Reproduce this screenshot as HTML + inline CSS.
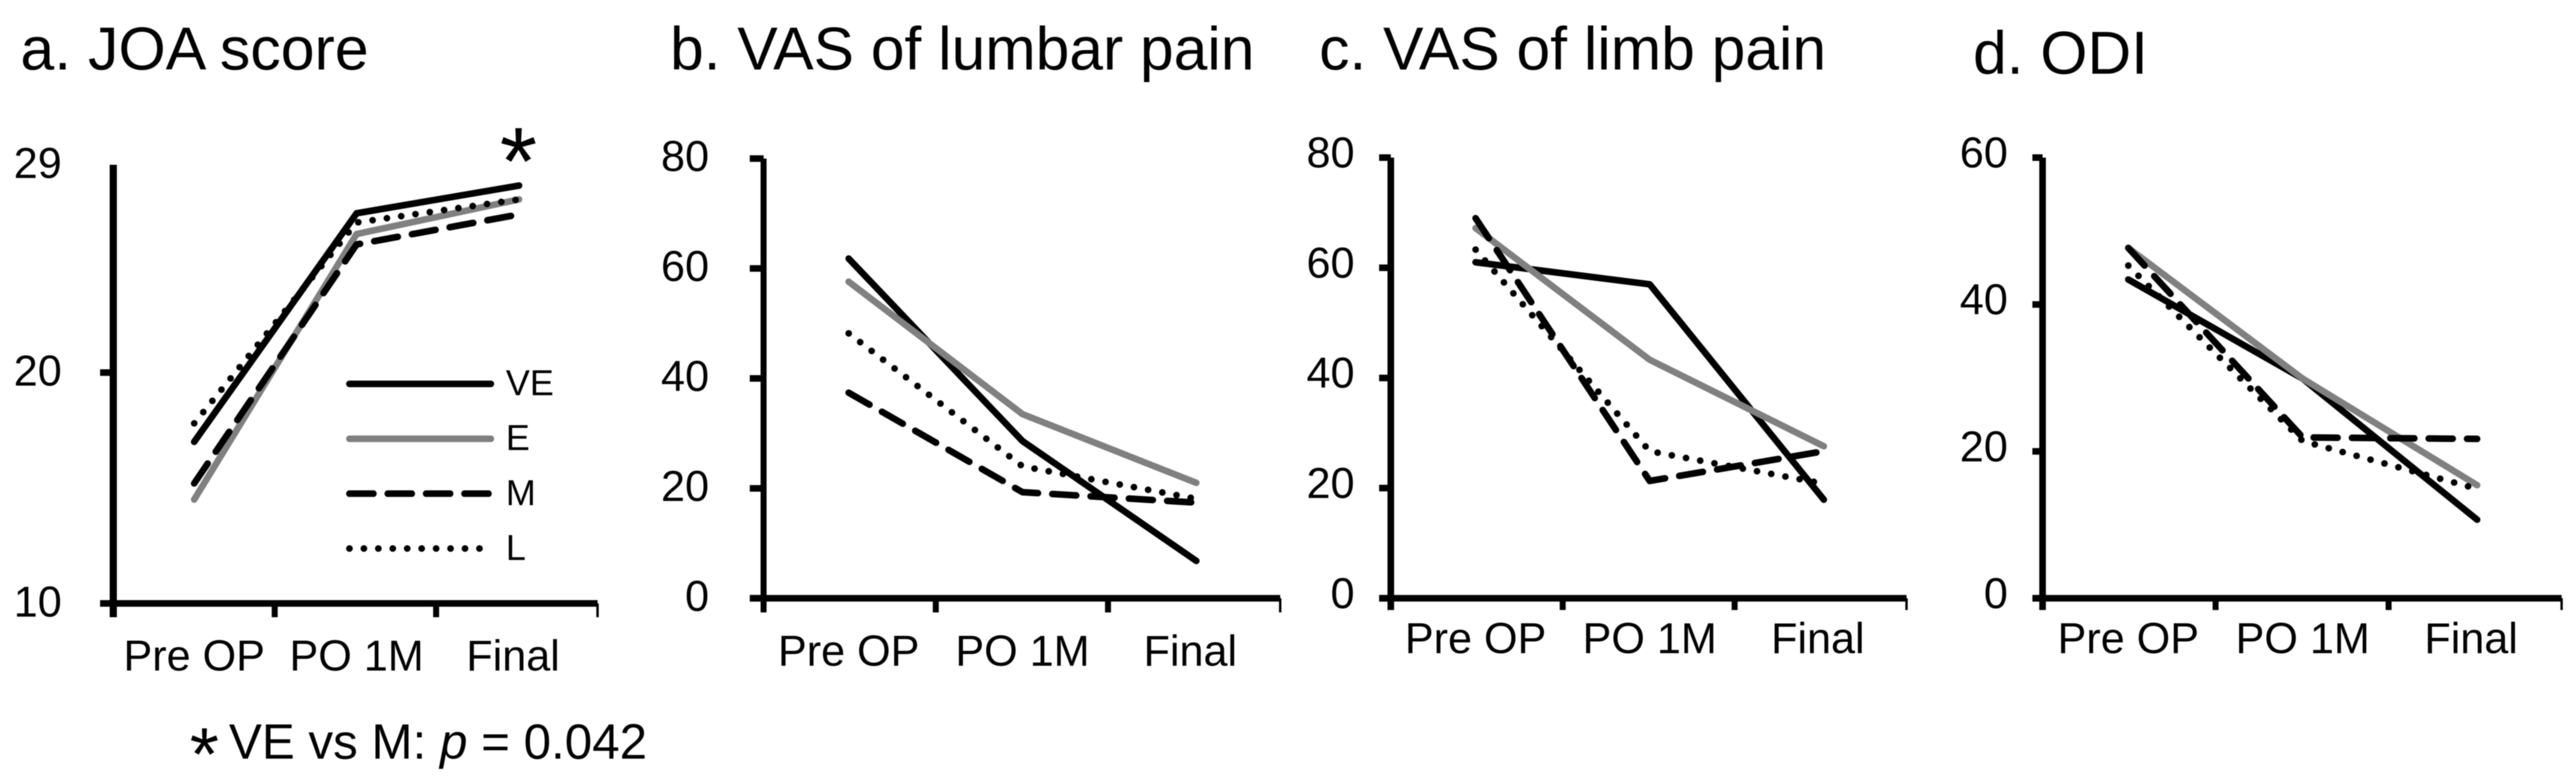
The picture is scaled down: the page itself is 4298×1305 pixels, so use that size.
<!DOCTYPE html>
<html lang="en">
<head>
<meta charset="utf-8">
<title>Clinical outcome scores by group</title>
<style>
  html, body { margin: 0; padding: 0; background: #fff; width: 4298px; height: 1305px; overflow: hidden; }
  svg { display: block; filter: blur(0.8px); }
  text { font-family: "Liberation Sans", Arial, sans-serif; fill: #000; }
</style>
</head>
<body>
<svg id="figure" xmlns="http://www.w3.org/2000/svg" width="4298" height="1305" viewBox="0 0 4298 1305">
  <rect x="0" y="0" width="4298" height="1305" fill="#fff"/>
  <text x="34" y="116" font-size="101.5">a. JOA score</text>
  <text x="1118" y="116" font-size="101">b. VAS of lumbar pain</text>
  <text x="2201" y="116" font-size="101">c. VAS of limb pain</text>
  <text x="3292" y="123" font-size="101">d. ODI</text>
  <text x="865" y="324" font-size="160" text-anchor="middle">*</text>
  <text x="341" y="1302" font-size="125" text-anchor="middle">*</text>
  <text x="382" y="1266" font-size="82.3">VE vs M: <tspan font-style="italic">p</tspan> = 0.042</text>
</svg>
<script>
// Shared categories and series names
const categories = ['Pre OP', 'PO 1M', 'Final'];
const seriesNames = ['VE', 'E', 'M', 'L'];

// a. JOA score
const joaVE = [17.0, 26.9, 28.1];
const joaE = [14.5, 26.0, 27.5];
const joaM = [15.2, 25.55, 26.85];
const joaL = [17.8, 26.5, 27.5];
const joaTickLabels = [10, 20, 29];
const joaTickMarks = [10, 20];

// b. VAS of lumbar pain
const lumbarVE = [61.8, 28.6, 6.8];
const lumbarE = [57.6, 33.5, 21.0];
const lumbarM = [37.4, 19.3, 17.4];
const lumbarL = [48.2, 24.0, 18.1];
const lumbarTickLabels = [0, 20, 40, 60, 80];

// c. VAS of limb pain
const limbVE = [61.0, 57.0, 17.9];
const limbE = [67.2, 43.3, 27.6];
const limbM = [69.0, 21.3, 26.7];
const limbL = [63.3, 26.7, 20.8];
const limbTickLabels = [0, 20, 40, 60, 80];

// d. ODI
const odiVE = [43.4, 29.9, 10.7];
const odiE = [47.7, 29.9, 15.4];
const odiM = [47.7, 21.9, 21.7];
const odiL = [45.3, 21.4, 14.9];
const odiTickLabels = [0, 20, 40, 60];

const NS = 'http://www.w3.org/2000/svg';
const svg = document.getElementById('figure');

function make(tag, attrs, parent) {
  const el = document.createElementNS(NS, tag);
  Object.keys(attrs).forEach(function (k) { el.setAttribute(k, attrs[k]); });
  parent.appendChild(el);
  return el;
}

const styles = {
  VE: { stroke: '#000', dash: '' },
  E: { stroke: '#808080', dash: '' },
  M: { stroke: '#000', dash: '40 24' },
  L: { stroke: '#000', dash: '0.1 24' }
};

const panels = [
  { key: 'joa', series: [joaVE, joaE, joaM, joaL], labels: joaTickLabels, marks: joaTickMarks,
    yMin: 10, yMax: 29, yBottom: 1007, yTop: 275, axisX: 189, axisEnd: 997, tickLeft: 167, tickBottom: 1030,
    firstX: 324, stepX: 271, labelEnd: 103, labelDy: 22, catBaseline: 1119, axisW: 12 },
  { key: 'lumbar', series: [lumbarVE, lumbarE, lumbarM, lumbarL], labels: lumbarTickLabels, marks: lumbarTickLabels,
    yMin: 0, yMax: 80, yBottom: 998.4, yTop: 264.6, axisX: 1274, axisEnd: 2136, tickLeft: 1251, tickBottom: 1022,
    firstX: 1416, stepX: 290, labelEnd: 1183, labelDy: 21, catBaseline: 1111, axisW: 10 },
  { key: 'limb', series: [limbVE, limbE, limbM, limbL], labels: limbTickLabels, marks: limbTickLabels,
    yMin: 0, yMax: 80, yBottom: 998.4, yTop: 263, axisX: 2320.5, axisEnd: 3181, tickLeft: 2301, tickBottom: 1018,
    firstX: 2462, stepX: 290.5, labelEnd: 2260, labelDy: 16.5, catBaseline: 1090, axisW: 11 },
  { key: 'odi', series: [odiVE, odiE, odiM, odiL], labels: odiTickLabels, marks: odiTickLabels,
    yMin: 0, yMax: 60, yBottom: 998.4, yTop: 263, axisX: 3408, axisEnd: 4274, tickLeft: 3391, tickBottom: 1018,
    firstX: 3551, stepX: 291, labelEnd: 3350, labelDy: 16.5, catBaseline: 1090, axisW: 11 }
];

panels.forEach(function (p) {
  const yScale = function (v) { return p.yBottom - (v - p.yMin) / (p.yMax - p.yMin) * (p.yBottom - p.yTop); };
  const xScale = function (i) { return p.firstX + i * p.stepX; };

  const g = make('g', {}, svg);
  
  

  const yAxis = make('line', { x1: p.axisX, x2: p.axisX, y1: p.yTop, y2: p.tickBottom, stroke: '#000', 'stroke-width': p.axisW }, g);
  
  

  const xAxis = make('line', { x1: p.tickLeft, x2: p.axisEnd, y1: p.yBottom, y2: p.yBottom, stroke: '#000', 'stroke-width': 11 }, g);
  
  

  p.marks.forEach(function (v) {
    const t = make('line', { x1: p.tickLeft, x2: p.axisX, y1: yScale(v), y2: yScale(v), stroke: '#000', 'stroke-width': 11 }, g);
    
    
  });

  p.labels.forEach(function (v) {
    const t = make('text', { x: p.labelEnd, y: yScale(v) + p.labelDy, 'font-size': 72, 'text-anchor': 'end' }, g);
    t.textContent = v;
    
    
  });

  const bandCount = categories.length;
  for (let b = 1; b <= bandCount; b++) {
    const bx = p.axisX + b * (p.axisEnd - p.axisX) / bandCount;
    const t = make('line', { x1: bx, x2: bx, y1: p.yBottom, y2: p.tickBottom, stroke: '#000', 'stroke-width': b === bandCount ? 4 : 10 }, g);
    
    
  }

  categories.forEach(function (c, i) {
    const nudge = i === 2 ? -10 : 0;
    const t = make('text', { x: xScale(i) + nudge, y: p.catBaseline, 'font-size': 72, 'text-anchor': 'middle' }, g);
    t.textContent = c;
    
    
  });

  p.series.forEach(function (values, s) {
    const name = seriesNames[s];
    const st = styles[name];
    const pts = values.map(function (v, i) { return xScale(i) + ',' + yScale(v); }).join(' ');
    const line = make('polyline', { points: pts, fill: 'none', stroke: st.stroke, 'stroke-width': 11, 'stroke-linecap': 'round', 'stroke-linejoin': 'round' }, g);
    if (st.dash) line.setAttribute('stroke-dasharray', st.dash);
    
    line.setAttribute('data-series', name);
    
  });
});

// Legend in panel a
const legend = make('g', {}, svg);


seriesNames.forEach(function (name, i) {
  const st = styles[name];
  const rowY = 640.6 + i * 91.6;
  const swatch = make('line', { x1: 583, x2: name === 'L' ? 800 : 819, y1: rowY, y2: rowY, stroke: st.stroke, 'stroke-width': 11, 'stroke-linecap': 'round' }, legend);
  if (st.dash) swatch.setAttribute('stroke-dasharray', st.dash);
  
  
  const label = make('text', { x: 844, y: rowY + 19, 'font-size': 60 }, legend);
  label.textContent = name;
  
  
});
</script>
</body>
</html>
